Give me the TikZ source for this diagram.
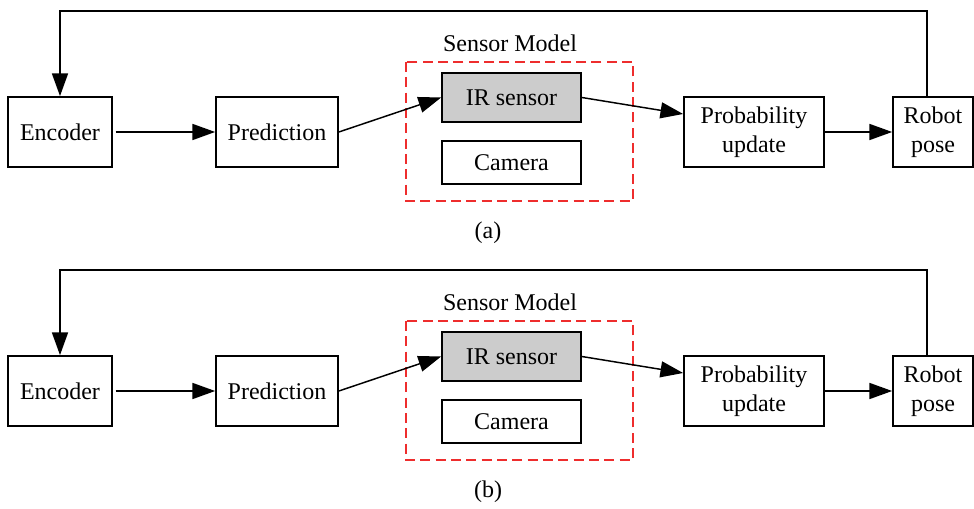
\documentclass[tikz,border=0pt]{standalone}
\usepackage{fontspec}
\setmainfont{Liberation Serif}
\usetikzlibrary{arrows.meta}
\definecolor{boxgray}{RGB}{204,204,204}
\definecolor{dashred}{RGB}{238,45,45}
\begin{document}
\begin{tikzpicture}[x=0.75pt,y=-0.75pt,
  font=\fontsize{18}{22}\selectfont,
  blk/.style={draw,line width=1.3pt,minimum height=52.5pt,inner sep=0pt,align=center},
  sub/.style={draw,line width=1.3pt,inner sep=0pt,minimum width=104.25pt},
  conn/.style={line width=1.1pt,-{Triangle[length=17pt,width=12pt]}},
  grp/.style={draw=dashred,line width=1.1pt,dash pattern=on 7.5pt off 4pt}]
\useasboundingbox (0,0) rectangle (974,509);
\foreach \p/\dy in {a/0,b/259}{
\begin{scope}[shift={(0,\dy)}]
  \node[blk,minimum width=78pt] (enc\p) at (60,132) {Encoder};
  \node[blk,minimum width=91.5pt] (pred\p) at (277,132) {Prediction};
  \node[sub,fill=boxgray,minimum height=36.75pt] (ir\p) at (511.5,97.5) {IR sensor};
  \node[sub,minimum height=32.25pt] (cam\p) at (511.5,162.5) {Camera};
  \draw[grp] (406,62) rectangle (633,201);
  \node (sm\p) at (510,43) {Sensor Model};
  \node[blk,minimum width=105pt] (prob\p) at (754,132) {Probability\\update};
  \node[blk,minimum width=60pt] (rob\p) at (933,132) {Robot\\pose};
  \node (lab\p) at (488,233) {(\p)};
  \coordinate (top\p) at (927,11);
  \coordinate (topl\p) at (60,11);
  \draw[conn,shorten <=2pt] (enc\p.east) -- (pred\p.west);
  \draw[conn] (pred\p.east) -- (ir\p.west);
  \draw[conn] (ir\p.east) -- ([yshift=13.5pt]prob\p.west);
  \draw[conn] (prob\p.east) -- (rob\p.west);
  \draw[conn] ([xshift=-4.5pt]rob\p.north) -- (top\p) -- (topl\p) -- (enc\p.north);
\end{scope}
}
\end{tikzpicture}
\end{document}
